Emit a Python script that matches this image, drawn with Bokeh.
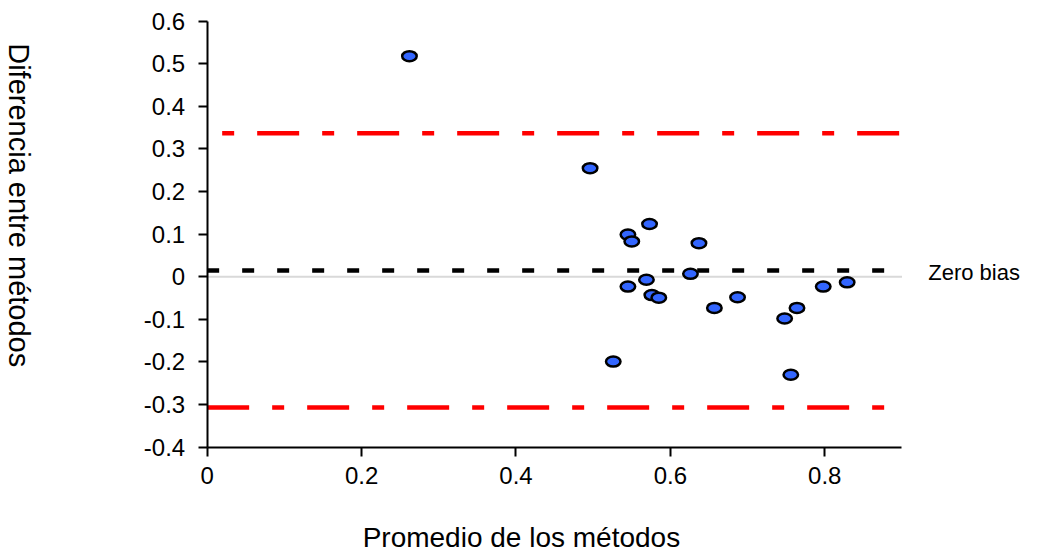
from bokeh.plotting import figure
from bokeh.models import Range1d, FixedTicker, Label, ColumnDataSource
from bokeh.embed import file_html
from bokeh.resources import INLINE
import math

# Data
mean_x = [0.262, 0.496, 0.545, 0.550, 0.573, 0.637, 0.626, 0.569, 0.545, 0.576,
          0.585, 0.657, 0.687, 0.748, 0.764, 0.798, 0.829, 0.526, 0.756]
diff_y = [0.518, 0.255, 0.099, 0.083, 0.124, 0.079, 0.007, -0.007, -0.023, -0.043,
          -0.049, -0.073, -0.048, -0.098, -0.073, -0.023, -0.013, -0.199, -0.230]
bias = 0.015
upper_loa = 0.337
lower_loa = -0.307
line_x = [0.0, 0.9]
x_axis_bounds = (0, 0.9)
y_axis_bounds = (-0.4, 0.6)

x_ticks = [0, 0.2, 0.4, 0.6, 0.8]
x_tick_labels = ["0", "0.2", "0.4", "0.6", "0.8"]
y_ticks = [-0.4, -0.3, -0.2, -0.1, 0, 0.1, 0.2, 0.3, 0.4, 0.5, 0.6]
y_tick_labels = ["-0.4", "-0.3", "-0.2", "-0.1", "0", "0.1", "0.2", "0.3", "0.4", "0.5", "0.6"]

FONT = "Liberation Sans"

# the frame covers the whole canvas; axes are pinned at x=0 and y=-0.4
p = figure(width=1044, height=556,
           x_range=Range1d(-0.2677, 1.0846), y_range=Range1d(-0.6566, 0.6486),
           output_backend="svg", toolbar_location=None,
           min_border_left=0, min_border_right=0, min_border_top=0, min_border_bottom=0)
p.grid.visible = False
p.outline_line_color = None
p.background_fill_color = "white"
p.border_fill_color = "white"

for ax in (p.xaxis[0], p.yaxis[0]):
    ax.axis_line_color = "black"
    ax.axis_line_width = 2
    ax.major_tick_line_color = "black"
    ax.major_tick_line_width = 2
    ax.major_tick_in = 0
    ax.major_tick_out = 9
    ax.minor_tick_line_color = None
    ax.major_label_text_font = FONT
    ax.major_label_text_font_size = "24px"
    ax.major_label_text_color = "black"

p.xaxis[0].fixed_location = y_axis_bounds[0]
p.xaxis[0].bounds = x_axis_bounds
p.xaxis[0].ticker = FixedTicker(ticks=x_ticks)
p.xaxis[0].major_label_overrides = {t: l for t, l in zip(x_ticks, x_tick_labels)}
p.xaxis[0].major_label_standoff = 11

p.yaxis[0].fixed_location = x_axis_bounds[0]
p.yaxis[0].bounds = y_axis_bounds
p.yaxis[0].ticker = FixedTicker(ticks=y_ticks)
p.yaxis[0].major_label_overrides = {t: l for t, l in zip(y_ticks, y_tick_labels)}
p.yaxis[0].major_label_standoff = 13

# zero line
p.line(line_x, [0, 0], line_color="#d9d9d9", line_width=2)
# limits of agreement
p.line(line_x, [upper_loa, upper_loa], line_color="red", line_width=4.5,
       line_dash="42 23 12 23", line_dash_offset=50)
p.line(line_x, [lower_loa, lower_loa], line_color="red", line_width=4.5,
       line_dash="42 23 12 23")
# bias
p.line(line_x, [bias, bias], line_color="black", line_width=4.5, line_dash="12 23")

src = ColumnDataSource(data=dict(x=mean_x, y=diff_y))
p.ellipse(x="x", y="y", width=14.5, height=10, width_units="screen", height_units="screen",
          source=src, fill_color="#3366ff", line_color="black", line_width=2.5)

p.add_layout(Label(x=0.934, y=0.009, text="Zero bias", text_font=FONT, text_font_size="22px",
                   text_color="black", text_align="left", text_baseline="middle"))
p.add_layout(Label(x=0.407, y=-0.612, text="Promedio de los métodos", text_font=FONT,
                   text_font_size="28px", text_color="black", text_align="center",
                   text_baseline="middle"))
p.add_layout(Label(x=-0.244, y=0.168, text="Diferencia entre métodos", text_font=FONT,
                   text_font_size="29px", text_color="black", text_align="center",
                   text_baseline="middle", angle=-math.pi / 2))

open("out.html", "w").write(file_html(p, INLINE))
